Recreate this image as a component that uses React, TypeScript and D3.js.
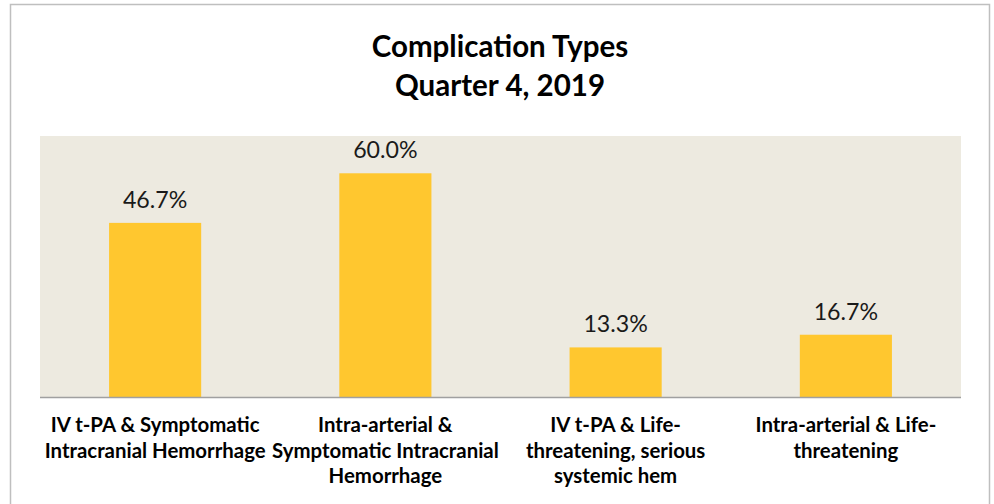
import React from "react";
import * as d3 from "d3";

const categories: string[][] = [
  ["IV t-PA & Symptomatic", "Intracranial Hemorrhage"],
  ["Intra-arterial &", "Symptomatic Intracranial", "Hemorrhage"],
  ["IV t-PA & Life-", "threatening, serious", "systemic hem"],
  ["Intra-arterial & Life-", "threatening"],
];
const values: number[] = [46.7, 60.0, 13.3, 16.7];
const titleLines: string[] = ["Complication Types", "Quarter 4, 2019"];

const W = 994;
const H = 504;
const plot = { left: 40, right: 961, top: 136, bottom: 397 };
const FONT = "Lato, 'Open Sans', sans-serif";

export default function App() {
  const x = d3
    .scaleBand<number>()
    .domain(values.map((_, i) => i))
    .range([plot.left, plot.right])
    .padding(0);
  const y = d3.scaleLinear().domain([0, 70]).range([plot.bottom, plot.top]);
  const barW = x.bandwidth() * 0.4;

  return (
    <svg
      width={W}
      height={H}
      style={{ position: "absolute", left: 0, top: 0, background: "#fff" }}
    >
      <rect x={10.5} y={4.5} width={979} height={510} fill="#fff" stroke="#BFBFBF" strokeWidth={1.5} />
      {titleLines.map((t, i) => (
        <text
          key={t}
          x={500}
          y={57 + i * 38.5}
          textAnchor="middle"
          fontFamily={FONT}
          fontWeight={700}
          fontSize={29.5}
          fill="#000"
        >
          {t}
        </text>
      ))}
      <rect
        x={plot.left}
        y={plot.top}
        width={plot.right - plot.left}
        height={plot.bottom - plot.top}
        fill="#EDEAE0"
      />
      {values.map((v, i) => {
        const cx = (x(i) as number) + x.bandwidth() / 2;
        return (
          <g key={i}>
            <rect x={cx - barW / 2} y={y(v)} width={barW} height={y(0) - y(v)} fill="#FFC72F" />
            <text
              x={cx}
              y={y(v) - 15}
              textAnchor="middle"
              fontFamily={FONT}
              fontSize={23.2}
              fill="#1a1a1a"
            >
              {d3.format(".1f")(v) + "%"}
            </text>
          </g>
        );
      })}
      <line x1={plot.left} x2={plot.right} y1={plot.bottom + 0.5} y2={plot.bottom + 0.5} stroke="#A0A0A0" strokeWidth={1.5} />
      {categories.map((lines, i) => {
        const cx = (x(i) as number) + x.bandwidth() / 2;
        return (
          <text
            key={i}
            textAnchor="middle"
            fontFamily={FONT}
            fontWeight={700}
            fontSize={20.4}
            fill="#000"
          >
            {lines.map((l, j) => (
              <tspan key={j} x={cx} y={432 + j * 25.5}>
                {l}
              </tspan>
            ))}
          </text>
        );
      })}
    </svg>
  );
}
